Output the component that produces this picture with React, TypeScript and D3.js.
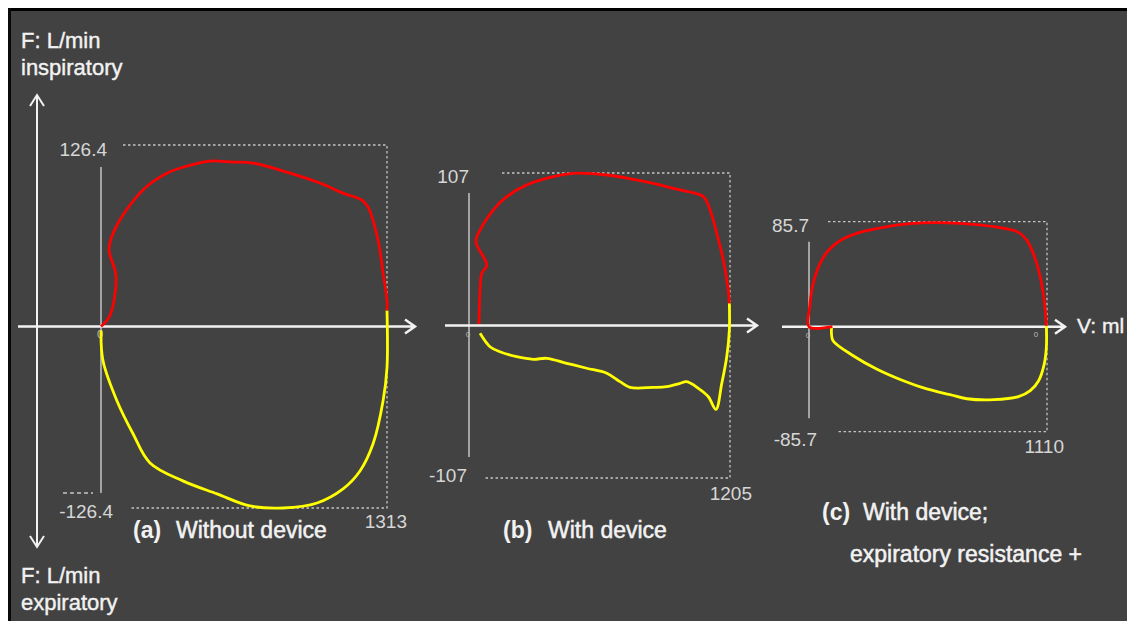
import * as d3 from "d3";

// flow-volume loops, V in ml, F in L/min (inspiratory +, expiratory -)
const volumeMax = [1313, 1205, 1110];
const flowMax = [126.4, 107, 85.7];
const flowTopLabels = ["126.4", "107", "85.7"];
const flowBottomLabels = ["-126.4", "-107", "-85.7"];
const volumeLabels = ["1313", "1205", "1110"];
const panelTags = ["(a)", "(b)", "(c)"];
const panelTitles = ["Without device", "With device", "With device;"];

const inspA: [number, number][] = [
  [0, 0], [41, 7.7], [69, 34.9], [37, 54.5], [78, 71.9], [202, 96.4], [303, 106.8],
  [395, 111.7], [500, 115.2], [606, 114.5], [698, 113.8], [868, 106.8], [1005, 99.9],
  [1111, 92.9], [1198, 88.0], [1226, 83.1], [1272, 60.1], [1295, 37.0], [1313, 18.2], [1313, 11.2],
];
const expA: [number, number][] = [
  [1313, 11.2], [1313, -28.6], [1295, -51.7], [1249, -81.7], [1189, -100.6], [1111, -113.1],
  [992, -122.9], [836, -126.4], [684, -125.0], [533, -116.6], [376, -107.5], [225, -95.0],
  [147, -74.7], [73, -51.7], [9, -23.7], [0, -2.8],
];
const inspB: [number, number][] = [
  [46, 1], [51, 24.9], [59, 36.6], [82, 42.4], [32, 58.8], [51, 67.0], [112, 81.0], [174, 90.4],
  [266, 98.6], [389, 104.4], [482, 106.8], [636, 105.6], [759, 102.6], [851, 99.8], [974, 95.1],
  [1082, 90.4], [1113, 81.0], [1144, 64.7], [1174, 46.0], [1197, 24.9], [1202, 15.6],
];
const expB: [number, number][] = [
  [1202, 15.6], [1202, -3.2], [1190, -21.9], [1167, -40.6], [1140, -58.8], [1105, -50.0],
  [1059, -44.1], [1005, -39.4], [974, -40.6], [913, -42.9], [851, -43.4], [743, -43.4],
  [697, -39.4], [636, -33.5], [543, -30.0], [451, -26.5], [359, -23.0], [297, -23.7],
  [220, -21.9], [143, -18.4], [97, -14.9], [51, -5.5],
];
const inspC: [number, number][] = [
  [109, 0], [0, 0], [3, 15.8], [19, 34.8], [50, 51.1], [89, 62.0], [144, 70.2], [237, 77.0],
  [362, 81.6], [486, 84.3], [580, 84.9], [705, 84.3], [861, 81.6], [977, 77.0], [1017, 70.2],
  [1047, 59.3], [1079, 40.2], [1097, 21.2], [1107, 0.8],
];
const expC: [number, number][] = [
  [1107, 0.8], [1107, -16.9], [1097, -30.5], [1071, -44.1], [1032, -52.2], [977, -57.1],
  [861, -59.6], [736, -58.8], [658, -55.5], [549, -50.8], [440, -44.1], [315, -34.5],
  [206, -23.7], [112, -11.4], [105, -6.0], [105, -0.5],
];

const inspiratory = [inspA, inspB, inspC];
const expiratory = [expA, expB, expC];

// page layout (page pixel coordinates)
const layout = [
  { x0: 101, x1: 387, yTop: 145, yBot: 508, axisL: 18, axisR: 415, gTop: 167, gBot: 493,
    dotTopL: 123, dotBotL: 130, topLbl: [107, 156], botLbl: [113, 518], volLbl: [407, 528],
    tagX: 133, titleX: 176, titleY: 538 },
  { x0: 469, x1: 730, yTop: 173, yBot: 478, axisL: 445, axisR: 757, gTop: 193, gBot: 457,
    dotTopL: 502, dotBotL: 483, topLbl: [469, 183], botLbl: [467, 482], volLbl: [752, 500],
    tagX: 503, titleX: 548, titleY: 538 },
  { x0: 809, x1: 1047, yTop: 221.7, yBot: 431.7, axisL: 782, axisR: 1065, gTop: 241.7, gBot: 418.3,
    dotTopL: 828, dotBotL: 838, topLbl: [809, 232], botLbl: [817, 446], volLbl: [1064, 453],
    tagX: 822, titleX: 863, titleY: 520 },
];

const FONT = "'Liberation Sans', Arial, sans-serif";
const WHITE = "#f2f2f2";
const GREY = "#c4c4c4";

const hArrow = (xl: number, xr: number, y: number) =>
  `M${xl},${y}H${xr}M${xr - 10},${y - 7}L${xr},${y}L${xr - 10},${y + 7}`;

export default function App() {
  return (
    <svg width={1127} height={613} style={{ display: "block" }}>
      <g transform="translate(-8,-8)">
        <rect x={8} y={8} width={1127} height={613} fill="#424242" />
        <rect x={8} y={8} width={1127} height={3} fill="#000" />
        <rect x={8} y={8} width={3} height={613} fill="#0a0a0a" />

        {/* main flow axis */}
        <path d="M37,547V95M30,106L37,95L44,106M30,536L37,547L44,536" stroke={WHITE}
          strokeWidth={2} fill="none" />
        <text x={21} y={48} fontSize={22} fill={WHITE} stroke={WHITE} strokeWidth={0.4} fontFamily={FONT}>F: L/min</text>
        <text x={21} y={75} fontSize={22} fill={WHITE} stroke={WHITE} strokeWidth={0.4} fontFamily={FONT}>inspiratory</text>
        <text x={21} y={583} fontSize={22} fill={WHITE} stroke={WHITE} strokeWidth={0.4} fontFamily={FONT}>F: L/min</text>
        <text x={21} y={610} fontSize={22} fill={WHITE} stroke={WHITE} strokeWidth={0.4} fontFamily={FONT}>expiratory</text>

        {layout.map((p, i) => {
          const x = d3.scaleLinear().domain([0, volumeMax[i]]).range([p.x0, p.x1]);
          const y = d3.scaleLinear().domain([-flowMax[i], flowMax[i]]).range([p.yBot, p.yTop]);
          const line = d3.line<[number, number]>()
            .x((d) => x(d[0]))
            .y((d) => y(d[1]))
            .curve(d3.curveCatmullRom.alpha(0.5));
          const y0 = y(0);
          const xm = x(volumeMax[i]);
          const yt = y(flowMax[i]);
          const yb = y(-flowMax[i]);
          return (
            <g key={i}>
              <line x1={x(0)} x2={x(0)} y1={p.gTop} y2={p.gBot} stroke={GREY} strokeWidth={1.5} />
              <path d={`M${p.dotTopL},${yt}H${xm}V${yb}H${p.dotBotL}`} fill="none" stroke={GREY}
                strokeWidth={1.3} strokeDasharray="2.5,2.5" />
              {i === 0 && (
                <line x1={63} x2={93} y1={p.gBot} y2={p.gBot} stroke={GREY} strokeWidth={1.3}
                  strokeDasharray="4,3" />
              )}
              <text x={p.topLbl[0]} y={p.topLbl[1]} textAnchor="end" fontSize={19} fill="#d6d6d6"
                fontFamily={FONT}>{flowTopLabels[i]}</text>
              <text x={p.botLbl[0]} y={p.botLbl[1]} textAnchor="end" fontSize={19} fill="#d6d6d6"
                fontFamily={FONT}>{flowBottomLabels[i]}</text>
              <text x={p.volLbl[0]} y={p.volLbl[1]} textAnchor="end" fontSize={19} fill="#d6d6d6"
                fontFamily={FONT}>{volumeLabels[i]}</text>
              <text x={x(0) - 1} y={y0 + 11} textAnchor="middle" fontSize={i === 0 ? 11 : 8}
                fill="#bbb" fontFamily={FONT}>0</text>
              {i === 2 && (
                <text x={xm - 11} y={y0 + 10} textAnchor="middle" fontSize={8} fill="#bbb"
                  fontFamily={FONT}>0</text>
              )}
              <path d={hArrow(p.axisL, p.axisR, y0)} stroke={WHITE} strokeWidth={2.5} fill="none" />
              <path d={line(expiratory[i]) ?? ""} fill="none" stroke="#ffff00" strokeWidth={2.8}
                strokeLinejoin="round" />
              <path d={line(inspiratory[i]) ?? ""} fill="none" stroke="#ff0000" strokeWidth={2.8}
                strokeLinejoin="round" />
              <text x={p.tagX} y={p.titleY} fontSize={23} fontWeight="bold" fill={WHITE}
                fontFamily={FONT}>{panelTags[i]}</text>
              <text x={p.titleX} y={p.titleY} fontSize={23} fill={WHITE} stroke={WHITE}
                strokeWidth={0.5} fontFamily={FONT}>{panelTitles[i]}</text>
            </g>
          );
        })}

        <text x={1077} y={333} fontSize={21} fill={WHITE} stroke={WHITE} strokeWidth={0.4}
          fontFamily={FONT}>V: ml</text>
        <text x={850} y={562} fontSize={23} fill={WHITE} stroke={WHITE} strokeWidth={0.5}
          fontFamily={FONT}>expiratory resistance +</text>
      </g>
    </svg>
  );
}
